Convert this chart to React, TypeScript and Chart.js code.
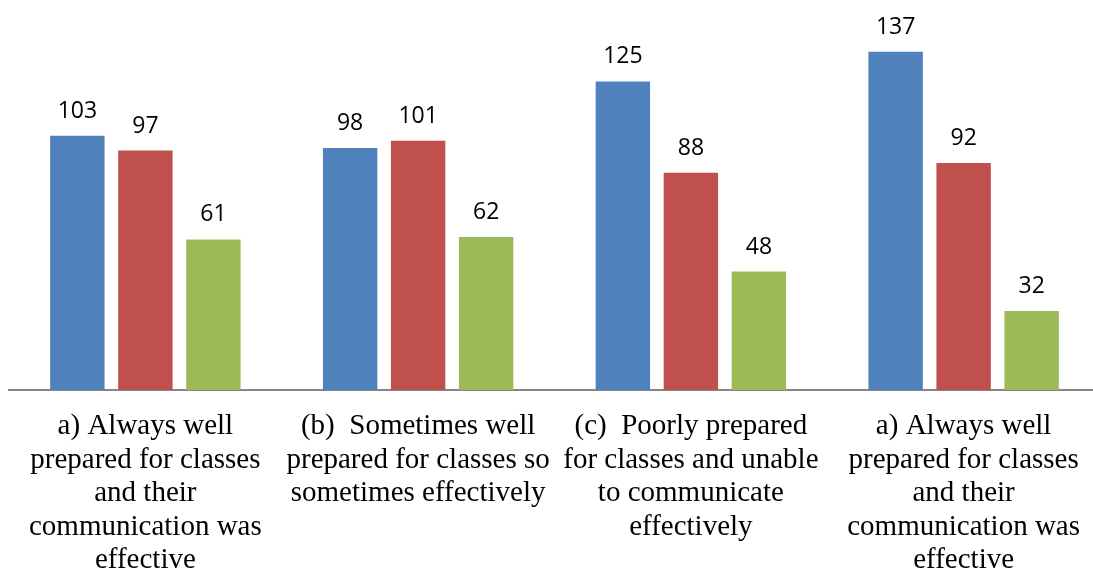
import React, { useEffect, useRef } from "react";
import { Chart, registerables } from "chart.js";

Chart.register(...registerables);

const categories: string[][] = [
  ["a) Always well", "prepared for classes", "and their", "communication was", "effective"],
  ["(b)  Sometimes well", "prepared for classes so", "sometimes effectively"],
  ["(c)  Poorly prepared", "for classes and unable", "to communicate", "effectively"],
  ["a) Always well", "prepared for classes", "and their", "communication was", "effective"],
];

const seriesA: number[] = [103, 98, 125, 137];
const seriesB: number[] = [97, 101, 88, 92];
const seriesC: number[] = [61, 62, 48, 32];

const colors = ["#4F81BD", "#C0504D", "#9BBB59"];

const valueLabels = {
  id: "valueLabels",
  afterDatasetsDraw(chart: any) {
    const ctx = chart.ctx;
    ctx.save();
    ctx.font = '23px "Open Sans"';
    ctx.fillStyle = "#000";
    ctx.textAlign = "center";
    ctx.textBaseline = "alphabetic";
    chart.data.datasets.forEach((ds: any, di: number) => {
      const meta = chart.getDatasetMeta(di);
      meta.data.forEach((el: any, i: number) => {
        ctx.fillText(String(ds.data[i]), el.x, el.y - 18);
      });
    });
    ctx.restore();
  },
};

export default function App() {
  const ref = useRef<HTMLCanvasElement>(null);
  useEffect(() => {
    document.body.style.margin = "0";
    document.body.style.overflow = "hidden";
    const chart = new Chart(ref.current!, {
      type: "bar",
      data: {
        labels: categories,
        datasets: [
          { label: "A", data: seriesA, backgroundColor: colors[0] },
          { label: "B", data: seriesB, backgroundColor: colors[1] },
          { label: "C", data: seriesC, backgroundColor: colors[2] },
        ],
      },
      options: {
        responsive: false,
        animation: false,
        devicePixelRatio: 1,
        layout: { padding: { left: 9, right: 10, top: 0, bottom: 0 } },
        datasets: { bar: { categoryPercentage: 0.748, barPercentage: 0.8 } },
        plugins: { legend: { display: false }, tooltip: { enabled: false } },
        scales: {
          x: {
            grid: { display: false, drawTicks: false },
            border: { display: true, color: "#868686", width: 2 },
            ticks: {
              color: "#000",
              padding: 20,
              maxRotation: 0,
              autoSkip: false,
              font: { family: '"Liberation Serif"', size: 29, lineHeight: 1.155 },
            },
            afterFit: (scale: any) => {
              scale.height = 184;
            },
          },
          y: { display: false, min: 0, max: 158 },
        },
      },
      plugins: [valueLabels],
    });
    return () => chart.destroy();
  }, []);
  return (
    <div style={{ position: "fixed", left: 0, top: 0, width: 1093, height: 574, overflow: "hidden", background: "#fff" }}>
      <canvas ref={ref} width={1110} height={574} style={{ width: 1110, height: 574, display: "block" }} />
    </div>
  );
}
